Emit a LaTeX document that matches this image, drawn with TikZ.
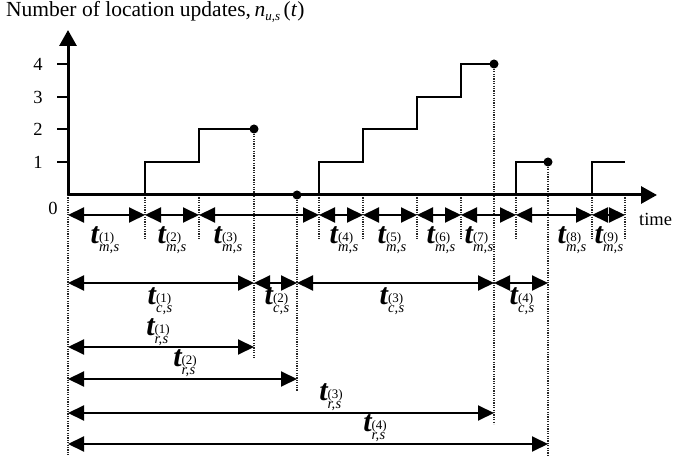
\documentclass[tikz,border=0pt]{standalone}
\usepackage{fontspec}
\setmainfont{Liberation Serif}
\usetikzlibrary{arrows.meta}
\newcommand\tlab[2]{{\fontsize{30}{30}\selectfont\bfseries\itshape t}\raisebox{-3pt}{\begin{tabular}{@{}l@{}}\fontsize{13}{13}\selectfont(#2)\\[-1.5pt]{\fontsize{14.5}{14.5}\selectfont\itshape #1}\end{tabular}}}
\tikzset{
  axisline/.style={line width=3pt,-{Triangle[length=16pt,width=17pt]}},
  stepline/.style={line width=2pt},
  iv/.style={line width=2pt,{Triangle[length=16pt,width=15pt]}-{Triangle[length=16pt,width=15pt]}},
  guide/.style={line width=1.4pt,dash pattern=on 1.2pt off 1.2pt,black!85},
  evdot/.style={circle,fill,inner sep=0pt,minimum size=9pt},
  tick/.style={line width=1.5pt},
  ticklab/.style={inner sep=0pt,font=\fontsize{18.5}{18.5}\selectfont},
  tl/.style={inner sep=0pt}
}
\begin{document}
\begin{tikzpicture}[x=1pt,y=-1pt]
\useasboundingbox (0,0) rectangle (673,462);
% title
\node[anchor=base west,inner sep=0pt,font=\fontsize{21.5}{21.5}\selectfont] (title) at (6,17)
  {Number of location updates,\,\textit{n}\raisebox{-4pt}{\fontsize{13}{13}\selectfont\textit{u},\textit{s}}\,(\textit{t})};
% axis coordinates
\coordinate (o) at (68,195);
\coordinate (ytop) at (68,30);
\coordinate (xend) at (657,195);
\foreach \n/\x in {p0/68,p1/145,p2/199,p3/254,p4/297,p5/319,p6/363,p7/417,p8/461,p9/494,p10/516,p11/548,p12/592,p13/625}
  \coordinate (\n) at (\x,195);
% row coordinates
\coordinate (rm) at (0,215);
\coordinate (rc) at (0,283);
\coordinate (r1) at (0,347);
\coordinate (r2) at (0,379);
\coordinate (r3) at (0,413);
\coordinate (r4) at (0,444);
\coordinate (gs) at (0,240);
\coordinate (gb) at (0,455);
% guides
\draw[guide] (p0) -- (p0 |- gb);
\foreach \n in {p1,p2,p5,p6,p7,p8,p10,p12,p13} \draw[guide] (\n) -- (\n |- gs);
\draw[guide] (254,129) -- (254,358);
\draw[guide] (p4) -- (297,391);
\draw[guide] (494,64) -- (494,424);
\draw[guide] (548,162) -- (548,455);
% step function
\draw[stepline] (p1) -- (145,162) -- (199,162) -- (199,129) -- (254,129);
\draw[stepline] (p5) -- (319,162) -- (363,162) -- (363,129) -- (417,129) -- (417,97) -- (461,97) -- (461,64) -- (494,64);
\draw[stepline] (p10) -- (516,162) -- (548,162);
\draw[stepline] (p12) -- (592,162) -- (625,162);
\node[evdot] (d1) at (254,129) {};
\node[evdot] (d2) at (297,195) {};
\node[evdot] (d3) at (494,64) {};
\node[evdot] (d4) at (548,162) {};
% axes
\draw[axisline] (o) -- (ytop);
\draw[axisline] (o) -- (xend);
% ticks
\foreach \y/\v in {162/1,129/2,97/3,64/4}{
  \draw[tick] (57,\y) -- (68,\y);
  \node[ticklab] (tk\v) at (38,\y) {\v};
}
\node[ticklab] (zero) at (53,208) {0};
\node[anchor=west,inner sep=0pt,font=\fontsize{18.5}{18.5}\selectfont] (time) at (639,219) {time};
% t_m row
\foreach \a/\b in {p0/p1,p1/p2,p2/p5,p5/p6,p6/p7,p7/p8,p8/p10,p10/p12,p12/p13}
  \draw[iv] (\a |- rm) -- (\b |- rm);
\foreach \x/\i in {105/1,172/2,228/3,344/4,392/5,441/6,479/7,572/8,609/9}
  \node[tl] (tm\i) at (\x,241) {\tlab{m,\kern0.5pt s}{\i}};
% t_c row
\draw[iv] (p0 |- rc) -- (p3 |- rc);
\draw[iv] (p3 |- rc) -- (p4 |- rc);
\draw[iv] (p4 |- rc) -- (p9 |- rc);
\draw[iv] (p9 |- rc) -- (p11 |- rc);
\node[tl] (tc1) at (160,302) {\tlab{c,\kern0.5pt s}{1}};
\node[tl] (tc2) at (277,302) {\tlab{c,\kern0.5pt s}{2}};
\node[tl] (tc3) at (392,302) {\tlab{c,\kern0.5pt s}{3}};
\node[tl] (tc4) at (522,302) {\tlab{c,\kern0.5pt s}{4}};
% t_r rows
\draw[iv] (p0 |- r1) -- (p3 |- r1);
\draw[iv] (p0 |- r2) -- (p4 |- r2);
\draw[iv] (p0 |- r3) -- (p9 |- r3);
\draw[iv] (p0 |- r4) -- (p11 |- r4);
\node[tl] (tr1) at (158,333) {\tlab{r,\kern0.5pt s}{1}};
\node[tl] (tr2) at (185,364) {\tlab{r,\kern0.5pt s}{2}};
\node[tl] (tr3) at (331,398) {\tlab{r,\kern0.5pt s}{3}};
\node[tl] (tr4) at (375,429) {\tlab{r,\kern0.5pt s}{4}};
\end{tikzpicture}
\end{document}
